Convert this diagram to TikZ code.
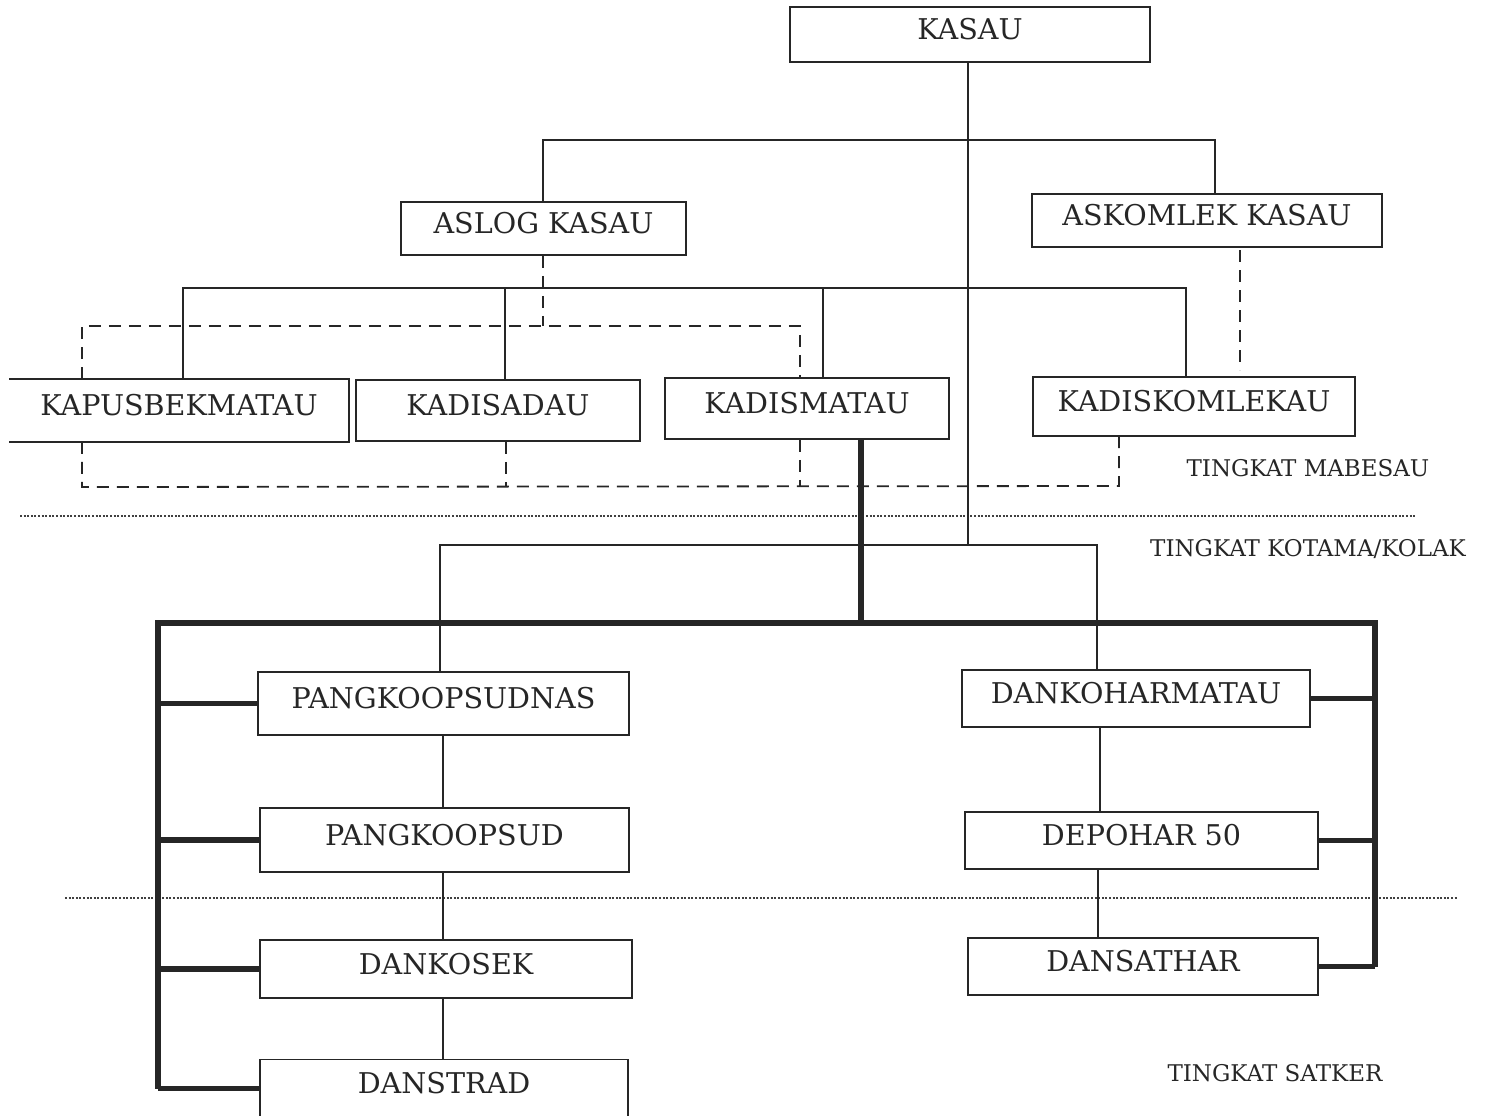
\documentclass[tikz,border=0pt]{standalone}
\usepackage{fontspec}
\setmainfont{DejaVu Serif}
\begin{document}
\begin{tikzpicture}[x=0.5pt,y=-0.5pt,
  box/.style={draw=black!85,line width=0.8pt,rectangle,inner sep=0pt,font=\fontsize{14.3}{16}\selectfont,text=black!85,text height=10.4pt,text depth=5pt},
  thin/.style={draw=black!85,line width=0.8pt},
  thick/.style={draw=black!85,line width=2.6pt},
  dsh/.style={draw=black!85,line width=0.9pt,dash pattern=on 6pt off 4pt},
  dot/.style={draw=black!75,line width=0.6pt,dash pattern=on 1pt off 0.8pt},
  lvl/.style={font=\fontsize{11.5}{13}\selectfont,text=black!85,inner sep=0pt}]
\useasboundingbox (0,0) rectangle (1495,1115);
% nodes
\node[box,minimum width=180pt,minimum height=27.5pt] (kasau) at (970,34.5) {KASAU};
\node[box,minimum width=142.5pt,minimum height=26.5pt] (aslog) at (543.5,228.5) {ASLOG KASAU};
\node[box,minimum width=175pt,minimum height=26.5pt] (askom) at (1207,220.5) {ASKOMLEK KASAU};
\node[box,draw=none,minimum width=169pt,minimum height=30.5pt] (kapus) at (179,410.5) {KAPUSBEKMATAU};
\draw[thin] (kapus.north west) -- (kapus.north east) -- (kapus.south east) -- (kapus.south west);
\node[box,minimum width=142pt,minimum height=30.5pt] (kadisad) at (498,410.5) {KADISADAU};
\node[box,minimum width=142pt,minimum height=30.5pt] (kadism) at (807,408.5) {KADISMATAU};
\node[box,minimum width=161pt,minimum height=29.5pt] (kadisk) at (1194,406.5) {KADISKOMLEKAU};
\node[box,minimum width=185.5pt,minimum height=31.5pt] (pnas) at (443.5,703.5) {PANGKOOPSUDNAS};
\node[box,minimum width=184.5pt,minimum height=32pt] (pkop) at (444.5,840) {PANGKOOPSUD};
\node[box,minimum width=186pt,minimum height=29pt] (dkosek) at (446,969) {DANKOSEK};
\node[box,minimum width=184pt,minimum height=29pt] (dstrad) at (444,1088.5) {DANSTRAD};
\node[box,minimum width=174pt,minimum height=28.5pt] (dkoh) at (1136,698.5) {DANKOHARMATAU};
\node[box,minimum width=176.5pt,minimum height=28.5pt] (depo) at (1141.5,840.5) {DEPOHAR 50};
\node[box,minimum width=175pt,minimum height=28.5pt] (dsat) at (1143,966.5) {DANSATHAR};
\node[lvl] (lmab) at (1308,468) {TINGKAT MABESAU};
\node[lvl] (lkot) at (1308,549) {TINGKAT KOTAMA/KOLAK};
\node[lvl] (lsat) at (1275,1073) {TINGKAT SATKER};
% level separators
\coordinate (s1a) at (20,516); \coordinate (s1b) at (1415,516);
\coordinate (s2a) at (65,898); \coordinate (s2b) at (1458,898);
\draw[dot] (s1a) -- (s1b);
\draw[dot] (s2a) -- (s2b);
% top structure
\coordinate (k0) at (968,62);
\coordinate (bus2) at (968,545);
\draw[thin] (k0) -- (bus2);
\coordinate (t1) at (543,140); \coordinate (t2) at (1215,140);
\draw[thin] (t1 |- aslog.north) -- (t1) -- (t2) -- (t2 |- askom.north);
\coordinate (m1) at (183,288); \coordinate (m2) at (505,288);
\coordinate (m3) at (823,288); \coordinate (m4) at (1186,288);
\draw[thin] (m1 |- kapus.north) -- (m1) -- (m4) -- (m4 |- kadisk.north);
\draw[thin] (m2) -- (m2 |- kadisad.north);
\draw[thin] (m3) -- (m3 |- kadism.north);
% dashed coordination lines
\coordinate (d0) at (543,326); \coordinate (d1) at (82,326); \coordinate (d2) at (800,326);
\draw[dsh] (d0 |- aslog.south) -- (d0);
\draw[dsh] (d1 |- kapus.north) -- (d1) -- (d2) -- (d2 |- kadism.north);
\coordinate (a1) at (1240,250); \coordinate (a2) at (1240,370);
\draw[dsh] (a1) -- (a2);
\coordinate (e1) at (82,487); \coordinate (e2) at (506,487);
\coordinate (e3) at (800,487); \coordinate (e4) at (1119,486);
\draw[dsh] (e1 |- kapus.south) -- (e1) -- (e4) -- (e4 |- kadisk.south);
\draw[dsh] (e2 |- kadisad.south) -- (e2);
\draw[dsh] (e3 |- kadism.south) -- (e3);
% thin bus to kotama
\coordinate (b1) at (440,545); \coordinate (b2) at (1097,545);
\draw[thin] (b1 |- pnas.north) -- (b1) -- (b2) -- (b2 |- dkoh.north);
\coordinate (v1) at (443,0);
\draw[thin] (v1 |- pnas.south) -- (v1 |- pkop.north);
\draw[thin] (v1 |- pkop.south) -- (v1 |- dkosek.north);
\draw[thin] (v1 |- dkosek.south) -- (v1 |- dstrad.north);
\coordinate (r1) at (1100,0);
\draw[thin] (r1 |- dkoh.south) -- (r1 |- depo.north);
\coordinate (r2) at (1098,0);
\draw[thin] (r2 |- depo.south) -- (r2 |- dsat.north);
% thick frame
\coordinate (h0) at (861,623); \coordinate (fl) at (158,623); \coordinate (fr) at (1375,623);
\draw[thick,line join=miter] (h0 |- kadism.south) -- (h0);
\draw[thick,line join=miter] (fl |- dstrad.west) -- (fl) -- (fr) -- (fr |- dsat.east);
\draw[thick] (fl |- pnas.west) -- (pnas.west);
\draw[thick] (fl |- pkop.west) -- (pkop.west);
\draw[thick] (fl |- dkosek.west) -- (dkosek.west);
\draw[thick] (fl |- dstrad.west) -- (dstrad.west);
\draw[thick] (fr |- dkoh.east) -- (dkoh.east);
\draw[thick] (fr |- depo.east) -- (depo.east);
\draw[thick] (fr |- dsat.east) -- (dsat.east);
\end{tikzpicture}
\end{document}
